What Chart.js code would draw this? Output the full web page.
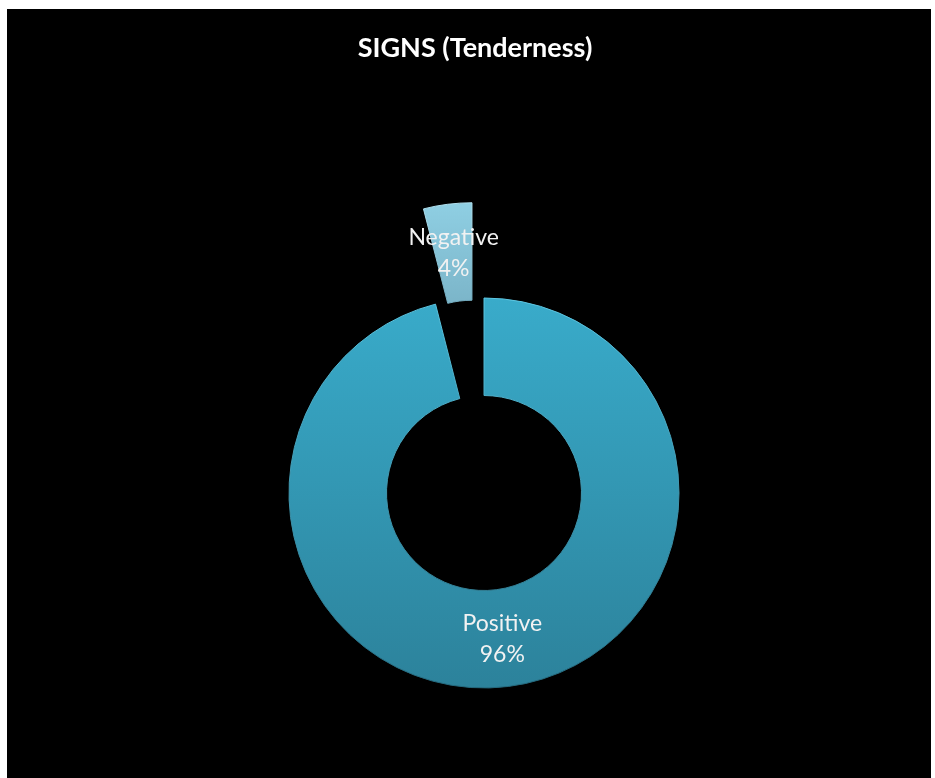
<!DOCTYPE html>
<html>
<head>
<meta charset="utf-8">
<script src="https://cdn.jsdelivr.net/npm/chart.js@4.4.1/dist/chart.umd.min.js"></script>
<style>
  html, body { margin: 0; padding: 0; background: #ffffff; }
  #frame {
    position: absolute;
    left: 7px;
    top: 9px;
    width: 924px;
    height: 769px;
    background: #000000;
  }
</style>
</head>
<body>
<div id="frame">
  <canvas id="signs-chart" width="924" height="769"></canvas>
</div>
<script>
const chartTitle = 'SIGNS (Tenderness)';
const categories = ['Negative', 'Positive'];
const percentValues = [4, 96];

const ringRadius = 195;      // outer radius in px
const explodeDistance = 96;  // how far the small slice is pulled out

const total = percentValues.reduce((a, b) => a + b, 0);
// start the first slice so that the second one begins exactly at 12 o'clock
const startRotation = -360 * percentValues[0] / total;

function sliceGradient(ctx, y0, y1, top, bottom) {
    const g = ctx.createLinearGradient(0, y0, 0, y1);
    g.addColorStop(0, top);
    g.addColorStop(1, bottom);
    return g;
}

function fillFor(context) {
    const chart = context.chart;
    const area = chart.chartArea;
    if (!area) return '#3399b8';
    const cy = (area.top + area.bottom) / 2;
    if (context.dataIndex === 0) {
        const up = cy - explodeDistance;
        return sliceGradient(chart.ctx, up - ringRadius, up - ringRadius / 2, '#8fcfe3', '#7cb6ca');
    }
    return sliceGradient(chart.ctx, cy - ringRadius, cy + ringRadius, '#39abca', '#2c829b');
}

function edgeFor(context) {
    const chart = context.chart;
    const area = chart.chartArea;
    if (!area) return '#3399b8';
    const cy = (area.top + area.bottom) / 2;
    if (context.dataIndex === 0) {
        const up = cy - explodeDistance;
        return sliceGradient(chart.ctx, up - ringRadius, up - ringRadius / 2, '#b2e2f0', '#74adc1');
    }
    return sliceGradient(chart.ctx, cy - ringRadius, cy + ringRadius, '#5cc6e2', '#24687c');
}

// pull the first slice away from the centre along its middle angle
const explodePlugin = {
    id: 'explodeSlice',
    afterDatasetsUpdate(chart) {
        const arc = chart.getDatasetMeta(0).data[0];
        const mid = (arc.startAngle + arc.endAngle) / 2;
        arc.x += Math.cos(mid) * explodeDistance;
        arc.y += Math.sin(mid) * explodeDistance;
    }
};

// category name and percentage written in the middle of each slice
const sliceLabels = {
    id: 'sliceLabels',
    afterDatasetsDraw(chart) {
        const ctx = chart.ctx;
        const meta = chart.getDatasetMeta(0);
        ctx.save();
        ctx.fillStyle = '#f2f2f2';
        ctx.font = '23px Lato, "Open Sans", sans-serif';
        ctx.textAlign = 'center';
        ctx.textBaseline = 'middle';
        meta.data.forEach((arc, i) => {
            const pos = arc.tooltipPosition();
            const pct = Math.round(percentValues[i] / total * 100) + '%';
            ctx.fillText(categories[i], pos.x, pos.y - 15);
            ctx.fillText(pct, pos.x, pos.y + 16);
        });
        ctx.restore();
    }
};

const titleDraw = {
    id: 'titleDraw',
    afterDraw(chart) {
        const ctx = chart.ctx;
        ctx.save();
        ctx.fillStyle = '#ffffff';
        ctx.font = 'bold 27px Lato, "Open Sans", sans-serif';
        ctx.textAlign = 'center';
        ctx.textBaseline = 'middle';
        ctx.fillText(chartTitle, 468, 39);
        ctx.restore();
    }
};

const signsChart = new Chart(document.getElementById('signs-chart').getContext('2d'), {
    type: 'doughnut',
    data: {
        labels: categories,
        datasets: [{
            data: percentValues,
            backgroundColor: fillFor,
            borderColor: edgeFor,
            borderWidth: 1
        }]
    },
    options: {
        responsive: false,
        animation: false,
        cutout: '50%',
        radius: ringRadius,
        rotation: startRotation,
        layout: {
            padding: { left: 30, right: 0, top: 199, bottom: 0 }
        },
        plugins: {
            legend: { display: false },
            tooltip: { enabled: false },
            title: { display: false }
        }
    },
    plugins: [explodePlugin, sliceLabels, titleDraw]
});
</script>
</body>
</html>
